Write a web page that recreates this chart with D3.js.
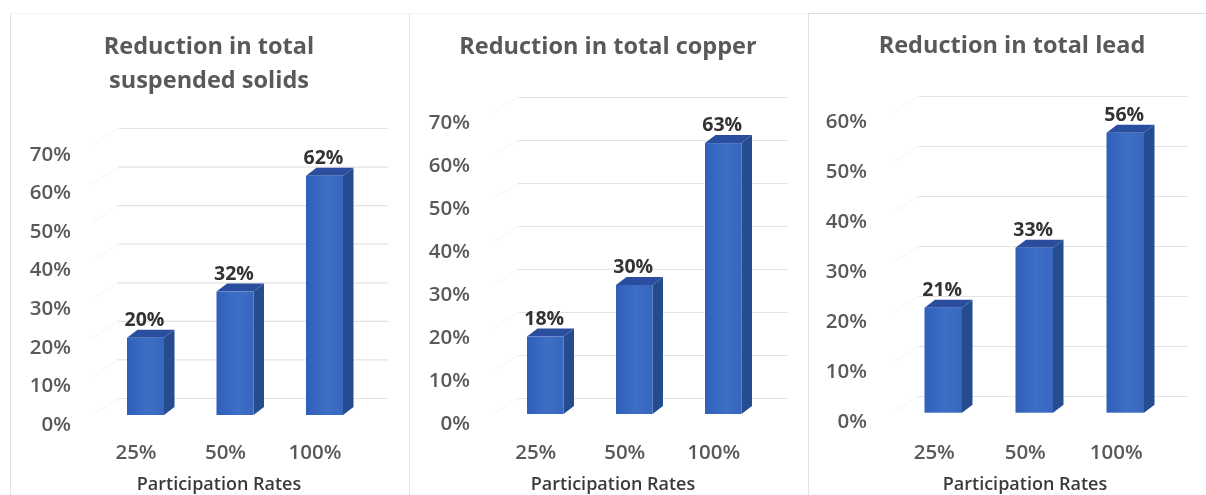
<!DOCTYPE html>
<html><head><meta charset="utf-8">
<script src="https://cdn.jsdelivr.net/npm/d3@7"></script>
<style>
html,body{margin:0;padding:0;background:#fff;overflow:hidden}
svg{display:block;filter:blur(0.6px)}
text{font-family:"Open Sans",sans-serif}
</style></head><body>
<svg id="c" width="1206" height="495"></svg>
<script>
// ---- data ----
const categories = ["25%","50%","100%"];
const titles = [["Reduction in total","suspended solids"],["Reduction in total copper"],["Reduction in total lead"]];
const solidsValues = [20,32,62];
const copperValues = [18,30,63];
const leadValues = [21,33,56];
const solidsTicks = [0,10,20,30,40,50,60,70];
const copperTicks = [0,10,20,30,40,50,60,70];
const leadTicks = [0,10,20,30,40,50,60];
const xAxisLabel = "Participation Rates";

// ---- layout ----
const seriesList = [solidsValues,copperValues,leadValues];
const tickList = [solidsTicks,copperTicks,leadTicks];
const layouts = [
 {cx:209, tickX:71, gridX:[118,388], barX:127, step:89.5, bw:37, base:415, top:145, maxV:70, wall:17, tickShift:-9.5, nameX:219, titleY:[54,88]},
 {cx:608, tickX:470, gridX:[518,788], barX:527, step:89, bw:36.5, base:414, top:113, maxV:70, wall:16, tickShift:-9.5, nameX:613, titleY:[54]},
 {cx:1012, tickX:867, gridX:[918,1188], barX:924.5, step:91, bw:37.5, base:412.7, top:112.7, maxV:60, wall:16.7, tickShift:-9, nameX:1025, titleY:[53]}
];
const depthX = 10.5, depthY = 8;

const svg = d3.select("#c");
const defs = svg.append("defs");
const grad = defs.append("linearGradient").attr("id","front");
grad.append("stop").attr("offset","0").attr("stop-color","#2f5fb9");
grad.append("stop").attr("offset","0.55").attr("stop-color","#3e6fc6");
grad.append("stop").attr("offset","1").attr("stop-color","#3766bd");

// panel borders
const frame = svg.append("g").attr("fill","none").attr("stroke-width",1);
frame.append("path").attr("d","M10.5,14V495").attr("stroke","#e2e2e2");
frame.append("path").attr("d","M409.5,14V495").attr("stroke","#e6e6e6");
frame.append("path").attr("d","M808.5,14V495").attr("stroke","#e2e2e2");
frame.append("path").attr("d","M10,13.5H808").attr("stroke","#f4f4f4");
frame.append("path").attr("d","M808,13.5H1206").attr("stroke","#dddddd");

seriesList.forEach((values,i)=>{
  const L = layouts[i];
  const ticks = tickList[i];
  const g = svg.append("g");
  const y = d3.scaleLinear().domain([0,L.maxV]).range([L.base,L.top]);
  const p = 1 - L.bw/L.step;
  const r0 = L.barX - p/2*L.step;
  const x = d3.scaleBand().domain(categories).range([r0,r0+3*L.step]).paddingInner(p).paddingOuter(p/2);

  // title
  titles[i].forEach((t,k)=>{
    g.append("text").attr("x",L.cx).attr("y",L.titleY[k]).attr("text-anchor","middle")
      .attr("font-size",23.5).attr("font-weight",700).attr("fill","#595959").text(t);
  });

  // back wall gridlines and faint side wall
  g.append("g").selectAll("line").data(ticks).join("line")
    .attr("x1",L.gridX[0]).attr("x2",L.gridX[1])
    .attr("y1",d=>y(d)-L.wall+.5).attr("y2",d=>y(d)-L.wall+.5)
    .attr("stroke","#e3e3e3").attr("stroke-width",1.2);
  g.append("g").selectAll("line").data(ticks).join("line")
    .attr("x1",L.gridX[0]).attr("x2",L.gridX[0]-26)
    .attr("y1",d=>y(d)-L.wall+.5).attr("y2",d=>y(d)+.5)
    .attr("stroke","#fafafa").attr("stroke-width",2);

  // y axis
  const yAxis = d3.axisLeft(y).tickValues(ticks).tickFormat(d=>d+"%").tickSize(0).tickPadding(0);
  const ya = g.append("g").attr("transform",`translate(${L.tickX},8.7)`).call(yAxis);
  ya.select(".domain").remove();
  ya.selectAll("text").attr("font-size",20.5).attr("font-weight",600).attr("fill","#595959")
    .style("font-family",'"Open Sans",sans-serif');

  // x axis
  const xAxis = d3.axisBottom(x).tickSize(0).tickPadding(0);
  const xa = g.append("g").attr("transform",`translate(${L.tickShift},444)`).call(xAxis);
  xa.select(".domain").remove();
  xa.selectAll("text").attr("font-size",20.5).attr("font-weight",600).attr("fill","#595959")
    .attr("dy","0.71em").style("font-family",'"Open Sans",sans-serif');

  // axis title
  g.append("text").attr("x",L.nameX).attr("y",490).attr("text-anchor","middle")
    .attr("font-size",18).attr("font-weight",600).attr("fill","#3a3a3a").text(xAxisLabel);

  // bars
  const data = categories.map((c,k)=>({c,v:values[k]}));
  const bar = g.append("g").selectAll("g").data(data).join("g");
  bar.append("path").attr("fill","#264c90").attr("d",d=>{
    const r=x(d.c)+x.bandwidth(), t=y(d.v), b=y(0);
    return `M${r},${t}L${r+depthX},${t-depthY}L${r+depthX},${b-depthY}L${r},${b}Z`;
  });
  bar.append("path").attr("fill","#2a4d9e").attr("d",d=>{
    const l=x(d.c), r=l+x.bandwidth(), t=y(d.v);
    return `M${l},${t}L${l+depthX},${t-depthY}L${r+depthX},${t-depthY}L${r},${t}Z`;
  });
  bar.append("rect").attr("fill","url(#front)")
    .attr("x",d=>x(d.c)).attr("width",x.bandwidth())
    .attr("y",d=>y(d.v)).attr("height",d=>y(0)-y(d.v));
  bar.append("text").attr("x",d=>x(d.c)+x.bandwidth()/2-1)
    .attr("y",d=>y(d.v)-depthY-4).attr("text-anchor","middle")
    .attr("font-size",19.5).attr("font-weight",700).attr("fill","#333").text(d=>d.v+"%");
});
</script></body></html>
